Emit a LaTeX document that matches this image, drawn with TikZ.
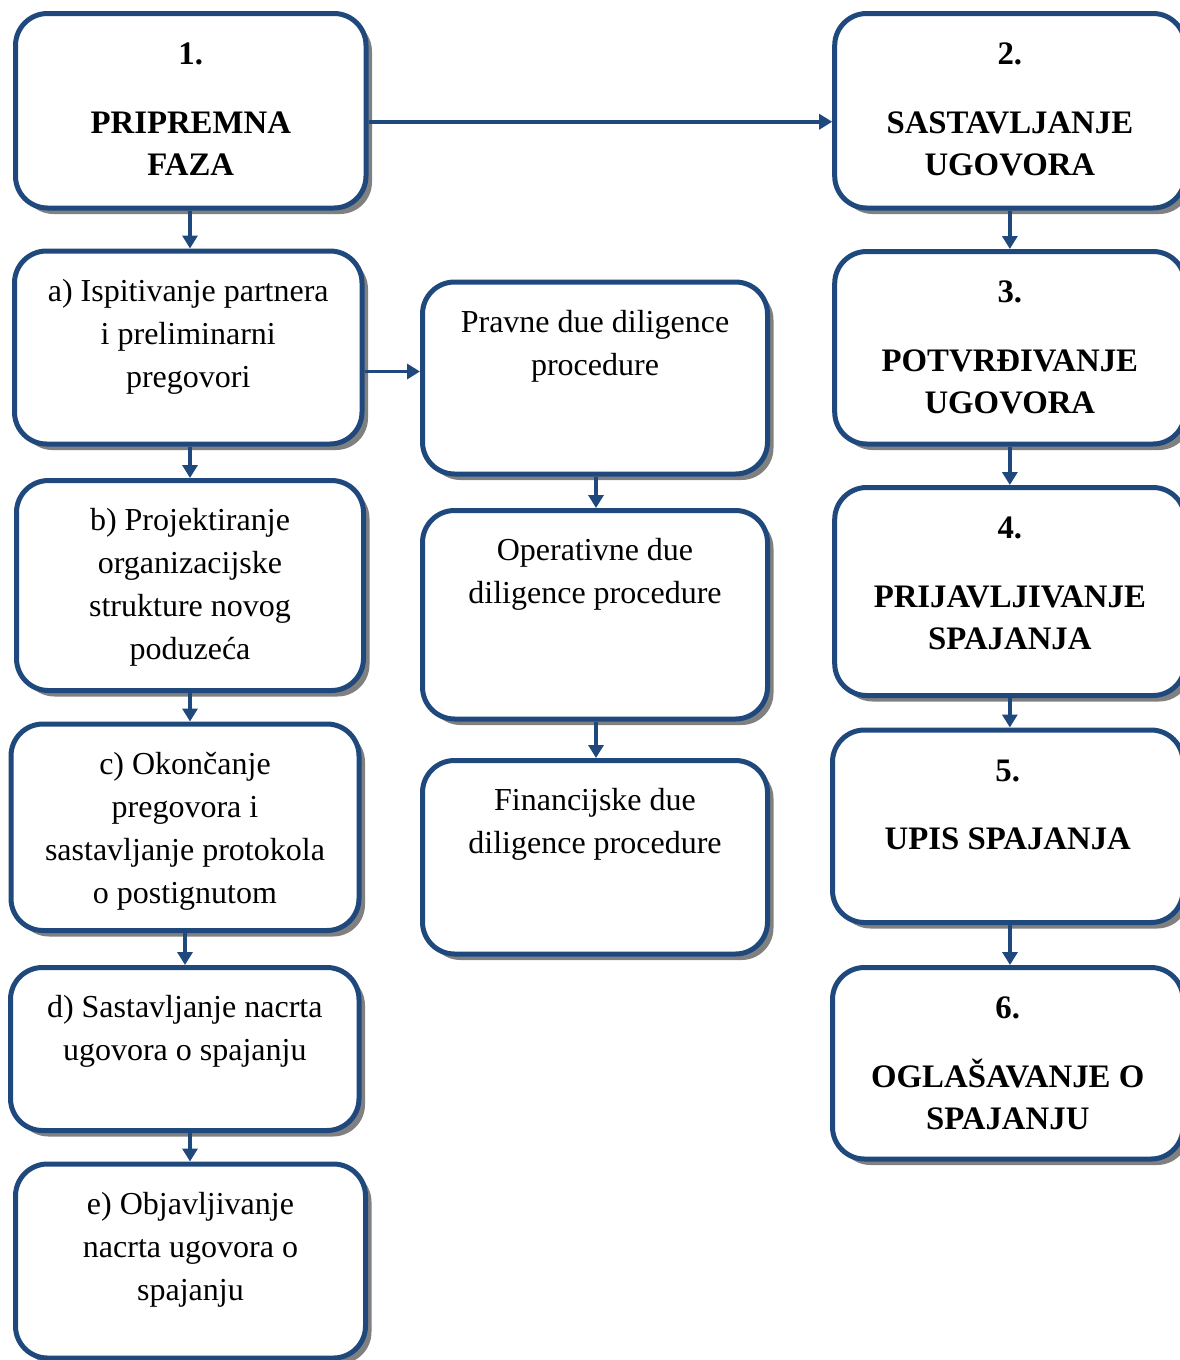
\documentclass[tikz,border=0pt]{standalone}
\usepackage{fontspec}
\setmainfont{Liberation Serif}
\usetikzlibrary{shadows,arrows.meta,calc}
\definecolor{boxblue}{HTML}{1F497D}
\definecolor{shadowgray}{HTML}{808080}
\tikzset{
  box/.style={rectangle, rounded corners=32pt, draw=boxblue, line width=5pt, fill=white, inner sep=0pt,
    drop shadow={shadow xshift=6pt, shadow yshift=-6pt, fill=shadowgray, opacity=1}},
  txt/.style={align=center, inner sep=0pt, anchor=north, font=\fontsize{32}{43}\selectfont},
  btxt/.style={align=center, inner sep=0pt, anchor=north, font=\fontsize{32.8}{42.5}\selectfont\bfseries},
  arr/.style={draw=boxblue, line width=3.5pt, -{Triangle[length=13pt,width=15pt]}},
}
\begin{document}
\begin{tikzpicture}[x=1pt,y=-1pt]
\useasboundingbox[fill=white] (0,0) rectangle (1179,1360);

% left column
\node[box, minimum width=350.5pt, minimum height=194.5pt] (b1) at (190.75,110.75) {};
\node[box, minimum width=347.5pt, minimum height=193pt] (ba) at (188.25,347.5) {};
\node[box, minimum width=347pt, minimum height=210pt] (bb) at (190,585.5) {};
\node[box, minimum width=348pt, minimum height=206.5pt] (bc) at (185,827.25) {};
\node[box, minimum width=348.5pt, minimum height=163pt] (bd) at (184.75,1049) {};
\node[box, minimum width=350pt, minimum height=194pt] (be) at (190.5,1261) {};
% middle column
\node[box, minimum width=345pt, minimum height=192pt] (bp) at (595,378) {};
\node[box, minimum width=345pt, minimum height=208.5pt] (bo) at (595,614.75) {};
\node[box, minimum width=345pt, minimum height=193.5pt] (bf) at (595,857.25) {};
% right column
\node[box, minimum width=350.3pt, minimum height=194.5pt] (b2) at (1009.85,110.75) {};
\node[box, minimum width=350.3pt, minimum height=192.5pt] (b3) at (1009.85,347.75) {};
\node[box, minimum width=350.3pt, minimum height=208pt] (b4) at (1009.85,591.5) {};
\node[box, minimum width=350.5pt, minimum height=192.5pt] (b5) at (1007.75,826.25) {};
\node[box, minimum width=350.5pt, minimum height=191.5pt] (b6) at (1007.75,1063.25) {};

% texts
\node[btxt] (t1) at ([yshift=-23.75pt]b1.north) {\strut 1.\\[26pt] PRIPREMNA\\ FAZA};
\node[btxt] (t2) at ([yshift=-23.75pt]b2.north) {\strut 2.\\[26pt] SASTAVLJANJE\\ UGOVORA};
\node[btxt] (t3) at ([yshift=-23.75pt]b3.north) {\strut 3.\\[26pt] POTVRĐIVANJE\\ UGOVORA};
\node[btxt] (t4) at ([yshift=-23.75pt]b4.north) {\strut 4.\\[26pt] PRIJAVLJIVANJE\\ SPAJANJA};
\node[btxt] (t5) at ([yshift=-23.75pt]b5.north) {\strut 5.\\[26pt] UPIS SPAJANJA};
\node[btxt] (t6) at ([yshift=-23.75pt]b6.north) {\strut 6.\\[26pt] OGLAŠAVANJE O\\ SPAJANJU};

\node[txt] (ta) at ([yshift=-22.4pt]ba.north) {\strut a) Ispitivanje partnera\\ i preliminarni\\ pregovori};
\node[txt] (tb) at ([yshift=-22.4pt]bb.north) {\strut b) Projektiranje\\ organizacijske\\ strukture novog\\ poduzeća};
\node[txt] (tc) at ([yshift=-22.4pt]bc.north) {\strut c) Okončanje\\ pregovora i\\ sastavljanje protokola\\ o postignutom};
\node[txt] (td) at ([yshift=-22.4pt]bd.north) {\strut d) Sastavljanje nacrta\\ ugovora o spajanju};
\node[txt] (te) at ([yshift=-22.4pt]be.north) {\strut e) Objavljivanje\\ nacrta ugovora o\\ spajanju};
\node[txt] (tp) at ([yshift=-22.4pt]bp.north) {\strut Pravne due diligence\\ procedure};
\node[txt] (to) at ([yshift=-22.4pt]bo.north) {\strut Operativne due\\ diligence procedure};
\node[txt] (tf) at ([yshift=-22.4pt]bf.north) {\strut Financijske due\\ diligence procedure};

% connectors
\draw[arr] ([yshift=-11pt]b1.east) -- ([yshift=-11pt]b1.east -| b2.west);
\draw[arr] ([yshift=-24pt]ba.east) -- ([yshift=-24pt]ba.east -| bp.west);
\draw[arr] ([xshift=-0.75pt]b1.south) -- ([xshift=-0.75pt]b1.south |- ba.north);
\draw[arr] ([xshift=1.75pt]ba.south) -- ([xshift=1.75pt]ba.south |- bb.north);
\draw[arr] (bb.south) -- (bb.south |- bc.north);
\draw[arr] (bc.south) -- (bc.south |- bd.north);
\draw[arr] ([xshift=5.25pt]bd.south) -- ([xshift=5.25pt]bd.south |- be.north);
\draw[arr] ([xshift=1pt]bp.south) -- ([xshift=1pt]bp.south |- bo.north);
\draw[arr] ([xshift=1pt]bo.south) -- ([xshift=1pt]bo.south |- bf.north);
\draw[arr] (b2.south) -- (b2.south |- b3.north);
\draw[arr] (b3.south) -- (b3.south |- b4.north);
\draw[arr] (b4.south) -- (b4.south |- b5.north);
\draw[arr] ([xshift=2.25pt]b5.south) -- ([xshift=2.25pt]b5.south |- b6.north);
\end{tikzpicture}
\end{document}
